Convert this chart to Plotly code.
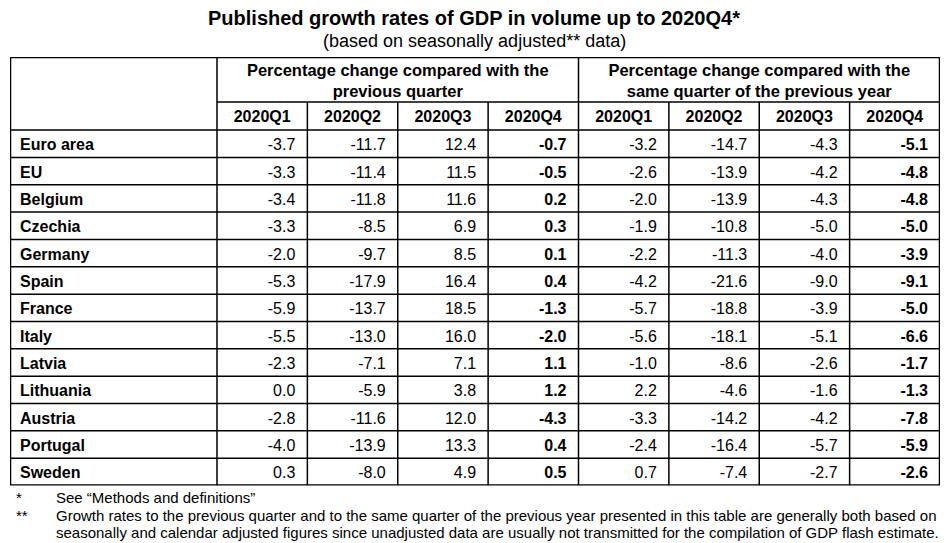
import plotly.graph_objects as go

countries = ["Euro area", "EU", "Belgium", "Czechia", "Germany", "Spain", "France",
             "Italy", "Latvia", "Lithuania", "Austria", "Portugal", "Sweden"]
quarters = ["2020Q1", "2020Q2", "2020Q3", "2020Q4"]

# percentage change compared with the previous quarter
qoq_q1 = [-3.7, -3.3, -3.4, -3.3, -2.0, -5.3, -5.9, -5.5, -2.3, 0.0, -2.8, -4.0, 0.3]
qoq_q2 = [-11.7, -11.4, -11.8, -8.5, -9.7, -17.9, -13.7, -13.0, -7.1, -5.9, -11.6, -13.9, -8.0]
qoq_q3 = [12.4, 11.5, 11.6, 6.9, 8.5, 16.4, 18.5, 16.0, 7.1, 3.8, 12.0, 13.3, 4.9]
qoq_q4 = [-0.7, -0.5, 0.2, 0.3, 0.1, 0.4, -1.3, -2.0, 1.1, 1.2, -4.3, 0.4, 0.5]

# percentage change compared with the same quarter of the previous year
yoy_q1 = [-3.2, -2.6, -2.0, -1.9, -2.2, -4.2, -5.7, -5.6, -1.0, 2.2, -3.3, -2.4, 0.7]
yoy_q2 = [-14.7, -13.9, -13.9, -10.8, -11.3, -21.6, -18.8, -18.1, -8.6, -4.6, -14.2, -16.4, -7.4]
yoy_q3 = [-4.3, -4.2, -4.3, -5.0, -4.0, -9.0, -3.9, -5.1, -2.6, -1.6, -4.2, -5.7, -2.7]
yoy_q4 = [-5.1, -4.8, -4.8, -5.0, -3.9, -9.1, -5.0, -6.6, -1.7, -1.3, -7.8, -5.9, -2.6]

group_labels = ["Percentage change compared with the<br>previous quarter",
                "Percentage change compared with the<br>same quarter of the previous year"]

# page is 948x543 but the html body keeps an 8px margin
OFF = 8
W, H = 948 - 2 * OFF, 543 - OFF
FONT = "Liberation Sans, Arial, sans-serif"

# table frame in page pixels, widths in "data column" units
left, right, top, bottom = 10, 940, 57, 485.5
col_px = (right - left) / (207 / 90.4 + 8)
row_px = 27.3
first_w = 207 / col_px          # first column, in column units
h1 = 45 / row_px                # group header height, in row units
h2 = 28 / row_px                # quarter header height, in row units
n_rows = len(countries)
n_cols = 8
nudge = 2.5 / row_px            # text sits a little below the cell middle

x_edges = [0, first_w] + [first_w + i + 1 for i in range(n_cols)]
x_split = x_edges[5]
x_total = x_edges[-1]
y_total = h1 + h2 + n_rows
row_mid = [h1 + h2 + i + 0.5 + nudge for i in range(n_rows)]


def px(x):
    return (x - OFF) / W


def py(y):
    return 1 - (y - OFF) / H


def fmt(vals, bold=False):
    out = [f"{v:.1f}" for v in vals]
    return [f"<b>{s}</b>" for s in out] if bold else out


cols = [qoq_q1, qoq_q2, qoq_q3, qoq_q4, yoy_q1, yoy_q2, yoy_q3, yoy_q4]
txt_font = dict(family=FONT, size=16, color="black")

fig = go.Figure()

# country names
fig.add_trace(go.Scatter(
    x=[10 / col_px] * n_rows, y=row_mid, text=[f"<b>{c}</b>" for c in countries],
    mode="text", textposition="middle right", textfont=txt_font, hoverinfo="skip"))

# values, right aligned in each column
for i, c in enumerate(cols):
    fig.add_trace(go.Scatter(
        x=[x_edges[i + 2] - 12 / col_px] * n_rows, y=row_mid,
        text=fmt(c, bold=(i % 4 == 3)),
        mode="text", textposition="middle left", textfont=txt_font, hoverinfo="skip"))

# quarter headers
fig.add_trace(go.Scatter(
    x=[(x_edges[i + 1] + x_edges[i + 2]) / 2 for i in range(n_cols)],
    y=[h1 + h2 / 2 + nudge * 0.8] * n_cols,
    text=[f"<b>{q}</b>" for q in quarters * 2],
    mode="text", textposition="middle center", textfont=txt_font, hoverinfo="skip"))

# group headers
fig.add_trace(go.Scatter(
    x=[(first_w + x_split) / 2, (x_split + x_total) / 2], y=[h1 / 2 + nudge * 1.2] * 2,
    text=[f"<b>{g}</b>" for g in group_labels],
    mode="text", textposition="middle center",
    textfont=dict(family=FONT, size=16.5, color="black"), hoverinfo="skip"))

# grid lines
line = dict(color="black", width=1.5)
for yy in [h1 + h2 + i for i in range(n_rows)]:
    fig.add_shape(type="line", xref="x", yref="y", x0=0, x1=x_total, y0=yy, y1=yy, line=line)
fig.add_shape(type="line", xref="x", yref="y", x0=first_w, x1=x_total, y0=h1, y1=h1, line=line)
for xx in x_edges[1:-1]:
    y_start = 0 if xx in (first_w, x_split) else h1
    fig.add_shape(type="line", xref="x", yref="y", x0=xx, x1=xx, y0=y_start, y1=y_total, line=line)
fig.add_shape(type="rect", xref="x", yref="y", x0=0, x1=x_total, y0=0, y1=y_total,
              line=dict(color="black", width=2.5))

fig.add_annotation(text="<b>Published growth rates of GDP in volume up to 2020Q4*</b>",
                   x=px(474), y=py(18), xref="paper", yref="paper", showarrow=False,
                   xanchor="center", yanchor="middle",
                   font=dict(family=FONT, size=20, color="black"))
fig.add_annotation(text="(based on seasonally adjusted** data)",
                   x=px(475), y=py(41), xref="paper", yref="paper", showarrow=False,
                   xanchor="center", yanchor="middle",
                   font=dict(family=FONT, size=18, color="black"))

notes = [("*", "See “Methods and definitions”", 497),
         ("**", "Growth rates to the previous quarter and to the same quarter of the previous year "
                "presented in this table are generally both based on", 515),
         ("", "seasonally and calendar adjusted figures since unadjusted data are usually not "
              "transmitted for the compilation of GDP flash estimate.", 532)]
for mark, txt, yy in notes:
    if mark:
        fig.add_annotation(text=mark, x=px(14), y=py(yy), xref="paper", yref="paper",
                           showarrow=False, xanchor="left", yanchor="middle",
                           font=dict(family=FONT, size=15, color="black"))
    fig.add_annotation(text=txt, x=px(54), y=py(yy), xref="paper", yref="paper",
                       showarrow=False, xanchor="left", yanchor="middle",
                       font=dict(family=FONT, size=15, color="black"))

fig.update_layout(
    width=W, height=H, margin=dict(l=0, r=0, t=0, b=0),
    paper_bgcolor="white", plot_bgcolor="white", showlegend=False,
    xaxis=dict(domain=[px(left), px(right)], range=[0, x_total], visible=False, fixedrange=True),
    yaxis=dict(domain=[py(bottom), py(top)], range=[y_total, 0], visible=False, fixedrange=True),
)

fig.write_html("out.html")
